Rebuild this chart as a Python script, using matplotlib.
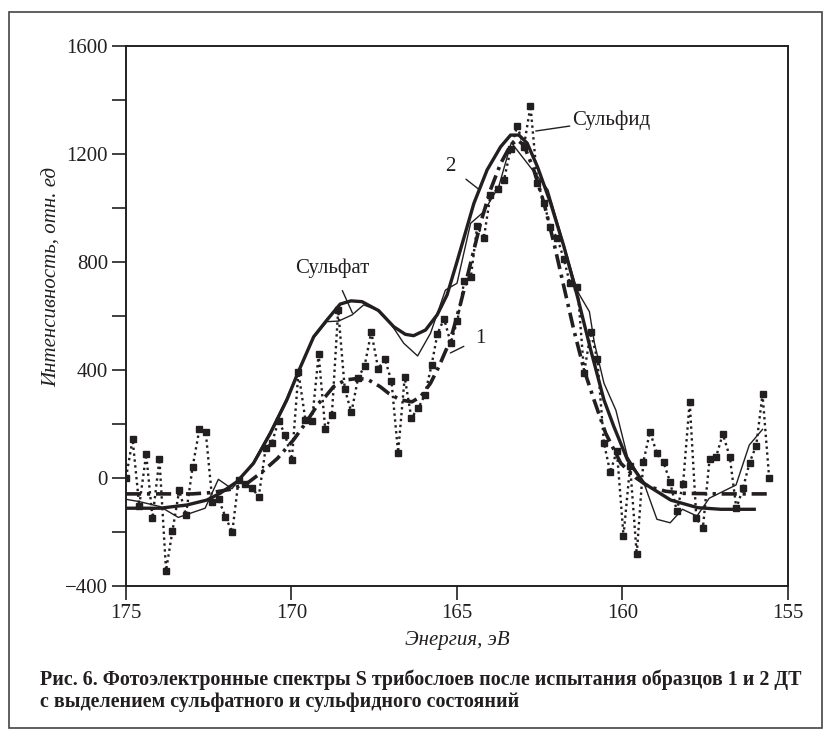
import matplotlib
matplotlib.use("Agg")
import matplotlib.pyplot as plt
from matplotlib.patches import Rectangle

# ---- data ----
# sample 1, raw spectrum (dotted with squares)
e1_raw = [175.00, 174.80, 174.60, 174.39, 174.20, 173.99, 173.79, 173.60, 173.39, 173.19,
          172.99, 172.78, 172.59, 172.39, 172.20, 172.00, 171.79, 171.60, 171.39, 171.19,
          170.99, 170.78, 170.59, 170.39, 170.19, 169.99, 169.79, 169.58, 169.38, 169.18,
          168.98, 168.78, 168.59, 168.39, 168.19, 167.99, 167.79, 167.59, 167.38, 167.18,
          166.98, 166.78, 166.58, 166.38, 166.17, 165.97, 165.77, 165.59, 165.39, 165.19,
          164.99, 164.78, 164.58, 164.39, 164.19, 163.99, 163.77, 163.58, 163.38, 163.18,
          162.98, 162.78, 162.57, 162.37, 162.19, 161.97, 161.77, 161.59, 161.36, 161.16,
          160.96, 160.76, 160.56, 160.37, 160.17, 159.97, 159.77, 159.57, 159.37, 159.17,
          158.96, 158.76, 158.56, 158.36, 158.17, 157.97, 157.77, 157.57, 157.37, 157.17,
          156.97, 156.76, 156.56, 156.36, 156.16, 155.96, 155.77, 155.57]
i1_raw = [0, 142, -104, 87, -150, 69, -344, -199, -46, -138,
          38, 181, 168, -89, -80, -144, -202, -9, -25, -39,
          -70, 109, 130, 211, 158, 67, 391, 214, 210, 457,
          179, 232, 621, 328, 242, 368, 415, 540, 403, 440,
          358, 93, 372, 222, 257, 307, 416, 533, 589, 499,
          580, 729, 745, 932, 887, 1047, 1068, 1103, 1216, 1303,
          1226, 1377, 1093, 1019, 930, 887, 809, 720, 708, 389,
          538, 439, 128, 20, 100, -215, 44, -284, 59, 170,
          90, 57, -17, -123, -23, 282, -150, -185, 69, 78,
          162, 78, -113, -39, 56, 119, 309, 0]

# sample 1, fitted envelope (dash-dot)
e1_fit = [175.0, 174.0, 173.0, 172.4, 171.8, 171.3, 170.9, 170.42, 169.94, 169.58, 169.18,
          168.98, 168.73, 168.37, 167.97, 167.67, 167.32, 167.06, 166.71, 166.36, 166.10,
          165.80, 165.55, 165.20, 164.89, 164.59, 164.29, 163.99, 163.68, 163.38, 163.18,
          162.98, 162.68, 162.37, 162.07, 161.77, 161.47, 161.16, 160.86, 160.51, 160.05,
          159.6, 159.2, 158.7, 158.15, 157.0, 155.6]
i1_fit = [-60, -60, -60, -55, -42, -17, 20, 72, 140, 201, 276,
          300, 337, 362, 368, 362, 337, 312, 288, 281, 300,
          350, 411, 510, 646, 794, 942, 1066, 1164, 1232, 1251,
          1232, 1140, 1016, 868, 707, 547, 399, 288, 165, 53,
          0, -34, -50, -58, -60, -60]

# sample 2, raw spectrum (thin solid)
e2_raw = [175.0, 174.58, 173.97, 173.42, 172.61, 172.21, 171.80, 171.60, 171.15, 170.64,
          170.14, 169.79, 169.33, 168.93, 168.58, 168.17, 167.82, 167.41, 167.01, 166.61,
          166.19, 165.80, 165.35, 165.00, 164.59, 164.19, 163.74, 163.36, 162.25, 161.36,
          161.00, 160.85, 160.56, 160.20, 159.85, 159.35, 158.96, 158.56, 158.19, 157.75,
          157.38, 157.18, 156.57, 156.17, 155.77]
i2_raw = [-80, -89, -107, -147, -113, -6, -41, -11, 58, 172,
          296, 398, 518, 578, 580, 603, 640, 621, 572, 498,
          451, 535, 695, 720, 942, 985, 1078, 1241, 1066, 690,
          615, 500, 350, 250, 78, -21, -154, -167, -117, -142,
          -76, -64, -27, 121, 179]

# sample 2, fitted envelope (thick solid)
e2_fit = [175.0, 173.97, 173.16, 172.56, 172.16, 171.65, 171.15, 170.64, 170.14, 169.79,
          169.33, 168.93, 168.53, 168.2, 167.87, 167.37, 166.91, 166.56, 166.31, 165.95,
          165.60, 165.30, 165.0, 164.49, 164.09, 163.68, 163.38, 163.13, 162.88, 162.57,
          162.17, 161.77, 161.36, 160.96, 160.56, 160.26, 159.85, 159.35, 158.54, 157.73,
          157.03, 155.97]
i2_fit = [-113, -113, -101, -83, -58, -15, 53, 164, 288, 393,
          522, 584, 643, 655, 652, 619, 559, 531, 526, 547,
          603, 677, 800, 1016, 1140, 1226, 1269, 1269, 1239, 1152,
          1016, 856, 670, 473, 288, 189, 66, -21, -83, -111,
          -117, -117]

x_ticks = [175, 170, 165, 160, 155]
y_ticks = [-400, 0, 400, 800, 1200, 1600]
y_minor = [-200, 200, 600, 1000, 1400]

# ---- figure ----
W, H = 831, 738
fig = plt.figure(figsize=(W / 100, H / 100), dpi=100)
serif = ["Liberation Serif", "DejaVu Serif"]
plt.rcParams["font.family"] = serif

L, R, T, B = 126, 788, 45.7, 585.7
ax = fig.add_axes([L / W, 1 - B / H, (R - L) / W, (B - T) / H])

ink = "#231f20"
ax.plot(e1_raw, i1_raw, linestyle=(0, (1.0, 1.5)), lw=1.7, color=ink,
        marker="s", markersize=4.3, markerfacecolor=ink, markeredgecolor=ink, zorder=3)
ax.plot(e2_raw, i2_raw, "-", lw=1.0, color=ink, zorder=4)
ax.plot(e2_fit, i2_fit, "-", lw=2.4, color=ink, zorder=5, solid_capstyle="butt")
ax.plot(e1_fit, i1_fit, linestyle=(0, (4.2, 1.6, 0.9, 1.6)), lw=2.6, color=ink, zorder=5)

ax.set_xlim(175, 155)
ax.set_ylim(-400, 1600)
ax.set_xticks(x_ticks)
ax.set_yticks(y_ticks)
ax.set_yticks(y_minor, minor=True)
ax.set_xticklabels([str(v) for v in x_ticks])
ax.set_yticklabels(["\u2212400" if v < 0 else str(v) for v in y_ticks])
ax.tick_params(axis="both", which="both", direction="out", length=10, width=1.2,
               colors=ink, labelsize=15, pad=3)
for s in ax.spines.values():
    s.set_linewidth(1.4)
    s.set_color(ink)

ax.set_xlabel("Энергия, эВ", fontsize=15, style="italic", color=ink, labelpad=6)
fig.text(52 / W, 1 - 277 / H, "Интенсивность, отн. ед", rotation=90, fontsize=15,
         style="italic", color=ink, ha="center", va="center")

# annotations
ann = dict(fontsize=15, color=ink, ha="center", va="center")
ax.annotate("Сульфат", xy=(168.16, 610), xytext=(168.77, 777),
            arrowprops=dict(arrowstyle="-", lw=1.0, color=ink, shrinkA=8, shrinkB=0), **ann)
ax.annotate("Сульфид", xy=(162.62, 1284), xytext=(160.33, 1325),
            arrowprops=dict(arrowstyle="-", lw=1.0, color=ink, shrinkA=38, shrinkB=0), **ann)
ax.annotate("2", xy=(164.35, 1069), xytext=(165.20, 1151),
            arrowprops=dict(arrowstyle="-", lw=1.0, color=ink, shrinkA=7, shrinkB=0), **ann)
ax.annotate("1", xy=(165.20, 462), xytext=(164.29, 517),
            arrowprops=dict(arrowstyle="-", lw=1.0, color=ink, shrinkA=7, shrinkB=0), **ann)

# caption
cap = ("Рис. 6. Фотоэлектронные спектры S трибослоев после испытания образцов 1 и 2 ДТ\n"
       "с выделением сульфатного и сульфидного состояний")
fig.text(40 / W, 1 - 669 / H, cap, fontsize=14.4, weight="bold", color=ink,
         ha="left", va="top", linespacing=1.2)

# outer frame
fig.patches.append(Rectangle((9 / W, 1 - 728 / H), (822 - 9) / W, (728 - 12) / H,
                             transform=fig.transFigure, fill=False, lw=1.2,
                             edgecolor="#444444"))

fig.savefig("out.png", dpi=100)
